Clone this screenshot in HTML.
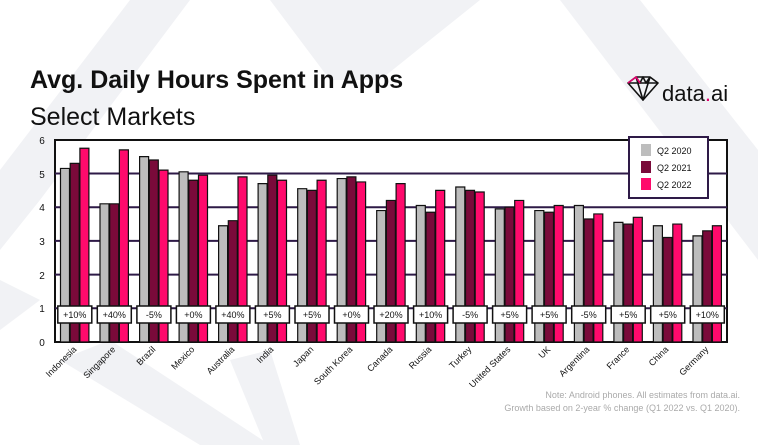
<!DOCTYPE html>
<html><head><meta charset="utf-8"><style>
body{margin:0;background:#fff;}
svg{display:block;font-family:"Liberation Sans",sans-serif;}
</style></head><body>
<svg width="758" height="445" viewBox="0 0 758 445" xmlns="http://www.w3.org/2000/svg">
<g fill="#f1f2f5">
<polygon points="0,170 130,0 190,0 40,200 0,250"/>
<polygon points="270,0 480,0 380,80 330,80"/>
<polygon points="560,0 640,0 758,150 758,260"/>
<polygon points="60,360 110,340 270,445 200,445"/>
<polygon points="230,360 270,350 300,445 265,445"/>
<polygon points="0,280 40,300 0,330"/>
</g>
<text x="30" y="88" font-size="25" font-weight="bold" fill="#111">Avg. Daily Hours Spent in Apps</text>
<text x="30" y="125" font-size="25" fill="#111">Select Markets</text>
<g stroke="#111" stroke-width="1.6" fill="none" stroke-linejoin="round">
<polygon points="628,83 636,77 650,77 658,83 643,100"/>
<polyline points="628,83 658,83"/><polyline points="636,77 643,100 650,77"/><polyline points="636,77 640,83 643,77 646,83 650,77"/>
</g>
<polyline points="628,83 636,77 640,83" stroke="#e0006c" stroke-width="1.6" fill="none"/>
<text x="662" y="101" font-size="22" fill="#111">data<tspan fill="#e0006c">.</tspan>ai</text>

<rect x="55" y="140" width="672" height="202" fill="#fff" stroke="#111" stroke-width="2"/>
<g stroke="#2e1a47" stroke-width="2">
<line x1="55" x2="727" y1="173.5" y2="173.5"/><line x1="55" x2="727" y1="207.2" y2="207.2"/><line x1="55" x2="727" y1="240.9" y2="240.9"/><line x1="55" x2="727" y1="274.6" y2="274.6"/><line x1="55" x2="727" y1="308.3" y2="308.3"/>
</g>
<g font-size="10" fill="#111" text-anchor="middle">
<text x="42" y="346">0</text><text x="42" y="312">1</text><text x="42" y="279">2</text><text x="42" y="245">3</text><text x="42" y="211">4</text><text x="42" y="178">5</text><text x="42" y="144">6</text>
</g>

<g transform="translate(0,342) scale(1,-33.7)" stroke="#111">
<g fill="#bdbdbd">
<rect x="60.5" y="0" width="9" height="5.15" vector-effect="non-scaling-stroke" stroke-width="1.2"/>
<rect x="100.0" y="0" width="9" height="4.1" vector-effect="non-scaling-stroke" stroke-width="1.2"/>
<rect x="139.6" y="0" width="9" height="5.5" vector-effect="non-scaling-stroke" stroke-width="1.2"/>
<rect x="179.1" y="0" width="9" height="5.05" vector-effect="non-scaling-stroke" stroke-width="1.2"/>
<rect x="218.6" y="0" width="9" height="3.45" vector-effect="non-scaling-stroke" stroke-width="1.2"/>
<rect x="258.1" y="0" width="9" height="4.7" vector-effect="non-scaling-stroke" stroke-width="1.2"/>
<rect x="297.7" y="0" width="9" height="4.55" vector-effect="non-scaling-stroke" stroke-width="1.2"/>
<rect x="337.2" y="0" width="9" height="4.85" vector-effect="non-scaling-stroke" stroke-width="1.2"/>
<rect x="376.7" y="0" width="9" height="3.9" vector-effect="non-scaling-stroke" stroke-width="1.2"/>
<rect x="416.3" y="0" width="9" height="4.05" vector-effect="non-scaling-stroke" stroke-width="1.2"/>
<rect x="455.8" y="0" width="9" height="4.6" vector-effect="non-scaling-stroke" stroke-width="1.2"/>
<rect x="495.3" y="0" width="9" height="3.95" vector-effect="non-scaling-stroke" stroke-width="1.2"/>
<rect x="534.8" y="0" width="9" height="3.9" vector-effect="non-scaling-stroke" stroke-width="1.2"/>
<rect x="574.4" y="0" width="9" height="4.05" vector-effect="non-scaling-stroke" stroke-width="1.2"/>
<rect x="613.9" y="0" width="9" height="3.55" vector-effect="non-scaling-stroke" stroke-width="1.2"/>
<rect x="653.4" y="0" width="9" height="3.45" vector-effect="non-scaling-stroke" stroke-width="1.2"/>
<rect x="693.0" y="0" width="9" height="3.15" vector-effect="non-scaling-stroke" stroke-width="1.2"/>
</g>
<g fill="#7a0a3a">
<rect x="70.2" y="0" width="9" height="5.3" vector-effect="non-scaling-stroke" stroke-width="1.2"/>
<rect x="109.7" y="0" width="9" height="4.1" vector-effect="non-scaling-stroke" stroke-width="1.2"/>
<rect x="149.3" y="0" width="9" height="5.4" vector-effect="non-scaling-stroke" stroke-width="1.2"/>
<rect x="188.8" y="0" width="9" height="4.8" vector-effect="non-scaling-stroke" stroke-width="1.2"/>
<rect x="228.3" y="0" width="9" height="3.6" vector-effect="non-scaling-stroke" stroke-width="1.2"/>
<rect x="267.8" y="0" width="9" height="4.95" vector-effect="non-scaling-stroke" stroke-width="1.2"/>
<rect x="307.4" y="0" width="9" height="4.5" vector-effect="non-scaling-stroke" stroke-width="1.2"/>
<rect x="346.9" y="0" width="9" height="4.9" vector-effect="non-scaling-stroke" stroke-width="1.2"/>
<rect x="386.4" y="0" width="9" height="4.2" vector-effect="non-scaling-stroke" stroke-width="1.2"/>
<rect x="426.0" y="0" width="9" height="3.85" vector-effect="non-scaling-stroke" stroke-width="1.2"/>
<rect x="465.5" y="0" width="9" height="4.5" vector-effect="non-scaling-stroke" stroke-width="1.2"/>
<rect x="505.0" y="0" width="9" height="4.0" vector-effect="non-scaling-stroke" stroke-width="1.2"/>
<rect x="544.5" y="0" width="9" height="3.85" vector-effect="non-scaling-stroke" stroke-width="1.2"/>
<rect x="584.1" y="0" width="9" height="3.65" vector-effect="non-scaling-stroke" stroke-width="1.2"/>
<rect x="623.6" y="0" width="9" height="3.5" vector-effect="non-scaling-stroke" stroke-width="1.2"/>
<rect x="663.1" y="0" width="9" height="3.1" vector-effect="non-scaling-stroke" stroke-width="1.2"/>
<rect x="702.7" y="0" width="9" height="3.3" vector-effect="non-scaling-stroke" stroke-width="1.2"/>
</g>
<g fill="#ff0a6c">
<rect x="79.9" y="0" width="9" height="5.75" vector-effect="non-scaling-stroke" stroke-width="1.2"/>
<rect x="119.4" y="0" width="9" height="5.7" vector-effect="non-scaling-stroke" stroke-width="1.2"/>
<rect x="159.0" y="0" width="9" height="5.1" vector-effect="non-scaling-stroke" stroke-width="1.2"/>
<rect x="198.5" y="0" width="9" height="4.95" vector-effect="non-scaling-stroke" stroke-width="1.2"/>
<rect x="238.0" y="0" width="9" height="4.9" vector-effect="non-scaling-stroke" stroke-width="1.2"/>
<rect x="277.5" y="0" width="9" height="4.8" vector-effect="non-scaling-stroke" stroke-width="1.2"/>
<rect x="317.1" y="0" width="9" height="4.8" vector-effect="non-scaling-stroke" stroke-width="1.2"/>
<rect x="356.6" y="0" width="9" height="4.75" vector-effect="non-scaling-stroke" stroke-width="1.2"/>
<rect x="396.1" y="0" width="9" height="4.7" vector-effect="non-scaling-stroke" stroke-width="1.2"/>
<rect x="435.7" y="0" width="9" height="4.5" vector-effect="non-scaling-stroke" stroke-width="1.2"/>
<rect x="475.2" y="0" width="9" height="4.45" vector-effect="non-scaling-stroke" stroke-width="1.2"/>
<rect x="514.7" y="0" width="9" height="4.2" vector-effect="non-scaling-stroke" stroke-width="1.2"/>
<rect x="554.2" y="0" width="9" height="4.05" vector-effect="non-scaling-stroke" stroke-width="1.2"/>
<rect x="593.8" y="0" width="9" height="3.8" vector-effect="non-scaling-stroke" stroke-width="1.2"/>
<rect x="633.3" y="0" width="9" height="3.7" vector-effect="non-scaling-stroke" stroke-width="1.2"/>
<rect x="672.8" y="0" width="9" height="3.5" vector-effect="non-scaling-stroke" stroke-width="1.2"/>
<rect x="712.4" y="0" width="9" height="3.45" vector-effect="non-scaling-stroke" stroke-width="1.2"/>
</g>
</g>

<g fill="#fff" stroke="#111" stroke-width="1.5">
<rect x="57.8" y="306" width="34" height="17"/><rect x="97.3" y="306" width="34" height="17"/><rect x="136.9" y="306" width="34" height="17"/><rect x="176.4" y="306" width="34" height="17"/><rect x="215.9" y="306" width="34" height="17"/><rect x="255.4" y="306" width="34" height="17"/><rect x="295.0" y="306" width="34" height="17"/><rect x="334.5" y="306" width="34" height="17"/><rect x="374.0" y="306" width="34" height="17"/><rect x="413.6" y="306" width="34" height="17"/><rect x="453.1" y="306" width="34" height="17"/><rect x="492.6" y="306" width="34" height="17"/><rect x="532.1" y="306" width="34" height="17"/><rect x="571.7" y="306" width="34" height="17"/><rect x="611.2" y="306" width="34" height="17"/><rect x="650.7" y="306" width="34" height="17"/><rect x="690.3" y="306" width="34" height="17"/>
</g>
<g font-size="9" fill="#111" text-anchor="middle">
<text x="74.8" y="318">+10%</text><text x="114.3" y="318">+40%</text><text x="153.9" y="318">-5%</text><text x="193.4" y="318">+0%</text><text x="232.9" y="318">+40%</text><text x="272.4" y="318">+5%</text><text x="312.0" y="318">+5%</text><text x="351.5" y="318">+0%</text><text x="391.0" y="318">+20%</text><text x="430.6" y="318">+10%</text><text x="470.1" y="318">-5%</text><text x="509.6" y="318">+5%</text><text x="549.1" y="318">+5%</text><text x="588.7" y="318">-5%</text><text x="628.2" y="318">+5%</text><text x="667.7" y="318">+5%</text><text x="707.3" y="318">+10%</text>
</g>
<g font-size="9" fill="#111" text-anchor="end">
<text transform="translate(77,350) rotate(-45)">Indonesia</text>
<text transform="translate(116,350) rotate(-45)">Singapore</text>
<text transform="translate(156,350) rotate(-45)">Brazil</text>
<text transform="translate(195,350) rotate(-45)">Mexico</text>
<text transform="translate(235,350) rotate(-45)">Australia</text>
<text transform="translate(274,350) rotate(-45)">India</text>
<text transform="translate(314,350) rotate(-45)">Japan</text>
<text transform="translate(353,350) rotate(-45)">South Korea</text>
<text transform="translate(393,350) rotate(-45)">Canada</text>
<text transform="translate(432,350) rotate(-45)">Russia</text>
<text transform="translate(472,350) rotate(-45)">Turkey</text>
<text transform="translate(511,350) rotate(-45)">United States</text>
<text transform="translate(551,350) rotate(-45)">UK</text>
<text transform="translate(590,350) rotate(-45)">Argentina</text>
<text transform="translate(630,350) rotate(-45)">France</text>
<text transform="translate(669,350) rotate(-45)">China</text>
<text transform="translate(709,350) rotate(-45)">Germany</text>
</g>

<rect x="629" y="137" width="79" height="61" fill="#fff" stroke="#2e1a47" stroke-width="2"/>
<rect x="641" y="144" width="10" height="12" fill="#bdbdbd"/><text x="657" y="154" font-size="9" fill="#111">Q2 2020</text>
<rect x="641" y="161" width="10" height="12" fill="#7a0a3a"/><text x="657" y="171" font-size="9" fill="#111">Q2 2021</text>
<rect x="641" y="178" width="10" height="12" fill="#ff0a6c"/><text x="657" y="188" font-size="9" fill="#111">Q2 2022</text>

<text x="740" y="398" font-size="9" fill="#aaa" text-anchor="end">Note: Android phones. All estimates from data.ai.</text>
<text x="740" y="411" font-size="9" fill="#aaa" text-anchor="end">Growth based on 2-year % change (Q1 2022 vs. Q1 2020).</text>
</svg>
</body></html>
